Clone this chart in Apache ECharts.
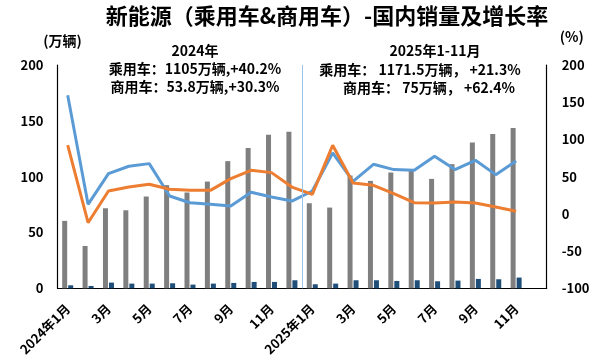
<!DOCTYPE html>
<html>
<head>
<meta charset="utf-8">
<script src="https://cdn.jsdelivr.net/npm/echarts@6/dist/echarts.min.js"></script>
<style>
html,body{margin:0;padding:0;background:#fff;}
#c{width:600px;height:363px;}
</style>
</head>
<body>
<div id="c"></div>
<script>
var categories = ['2024年1月','2月','3月','4月','5月','6月','7月','8月','9月','10月','11月','12月',
                  '2025年1月','2月','3月','4月','5月','6月','7月','8月','9月','10月','11月','12月'];
var passengerSales = [60.4,37.9,71.7,69.9,82.2,92.4,85.8,95.6,113.9,125.6,137.5,140.2,
                      76.2,72.3,101,96.2,103.7,105.8,98,111.2,130.6,138.1,143.5,null];
var commercialSales = [2.7,2.1,5.1,4.2,4.2,4.5,3.3,4.2,4.8,5.7,5.7,7.2,
                       3.6,4.2,7.2,7.2,6.6,7.2,6.3,6.9,8.4,8.1,9.6,null];
var commercialGrowth = [159.4,12.8,54,64,67.5,24,15,12.8,10.5,29,22.6,17.2,
                        30.7,81.8,43.7,66.6,59.5,58.5,77.4,59.5,72,52.7,71,null];
var passengerGrowth = [92.2,-11.9,30.7,36,39.7,33,31.6,31.6,47.4,58.5,55.4,36,
                       26.2,92.2,41.5,38.4,27.2,15,14.6,15.9,14.6,9.2,3.4,null];
var leftTicks = [0,200,50];
var rightTicks = [-100,200,50];
var titleText = '新能源（乘用车&商用车）-国内销量及增长率';
var note2024 = ['2024年','乘用车：1105万辆,+40.2%','商用车：53.8万辆,+30.3%'];
var note2025 = ['2025年1-11月','乘用车： 1171.5万辆， +21.3%','商用车： 75万辆， +62.4%'];
var dividerAt = 12;

var FONT = '"Noto Sans CJK SC", "Noto Sans", sans-serif';
var chart = echarts.init(document.getElementById('c'), null, {renderer:'canvas'});
function noteTitle(text, x, y, size){
  return {text: text, left: x, top: y, textAlign: 'center',
    textStyle: {fontFamily: FONT, fontWeight: 'bold', fontSize: size, color: '#000'}};
}
var option = {
  animation: false,
  backgroundColor: '#fff',
  title: [
    noteTitle(titleText, 322, 0, 22),
    noteTitle(note2024[0], 190, 39, 14),
    noteTitle(note2024[1], 190, 57, 14),
    noteTitle(note2024[2], 190, 75, 14),
    noteTitle(note2025[0], 430, 39, 14),
    noteTitle(note2025[1], 415, 58, 14),
    noteTitle(note2025[2], 424, 76, 14)
  ],
  grid: {left: 57.5, right: 53.3, top: 65, bottom: 74.7, containLabel: false},
  xAxis: [{
    type: 'category',
    data: categories,
    axisLine: {show: true, lineStyle: {color: '#000', width: 1.2}},
    axisTick: {show: false},
    axisLabel: {interval: 1, rotate: 45, fontFamily: FONT, fontWeight: 'bold', fontSize: 13, color: '#000', margin: 18},
    splitLine: {show: false}
  }, {
    type: 'value', min: 0, max: categories.length, show: false
  }],
  yAxis: [{
    type: 'value', min: leftTicks[0], max: leftTicks[1], interval: leftTicks[2],
    name: '(万辆)', nameLocation: 'end', nameGap: 17,
    nameTextStyle: {fontFamily: FONT, fontWeight: 'bold', fontSize: 14, color: '#000', align: 'center', padding: [0, 0, 0, 10]},
    axisLine: {show: true, lineStyle: {color: '#000', width: 1.2}},
    axisTick: {show: false},
    axisLabel: {fontFamily: FONT, fontWeight: 'bold', fontSize: 13, color: '#000', margin: 14},
    splitLine: {show: false}
  }, {
    type: 'value', min: rightTicks[0], max: rightTicks[1], interval: rightTicks[2],
    name: '(%)', nameLocation: 'end', nameGap: 21,
    nameTextStyle: {fontFamily: FONT, fontWeight: 'bold', fontSize: 14, color: '#000', align: 'center', padding: [0, 0, 0, 50]},
    axisLine: {show: true, lineStyle: {color: '#000', width: 1.2}},
    axisTick: {show: false},
    axisLabel: {fontFamily: FONT, fontWeight: 'bold', fontSize: 13, color: '#000', margin: 15},
    splitLine: {show: false}
  }],
  series: [{
    name: '乘用车', type: 'bar', data: passengerSales, yAxisIndex: 0,
    barWidth: 5, barGap: '20%',
    itemStyle: {color: '#7f7f7f'}
  }, {
    name: '商用车', type: 'bar', data: commercialSales, yAxisIndex: 0,
    barWidth: 5, barGap: '20%',
    itemStyle: {color: '#1f4e79'}
  }, {
    name: '商用车增长率', type: 'line', data: commercialGrowth, yAxisIndex: 1,
    symbol: 'none', lineStyle: {color: '#5b9bd5', width: 3}, itemStyle: {color: '#5b9bd5'}
  }, {
    name: '乘用车增长率', type: 'line', data: passengerGrowth, yAxisIndex: 1,
    symbol: 'none', lineStyle: {color: '#ed7d31', width: 3}, itemStyle: {color: '#ed7d31'}
  }, {
    name: 'divider', type: 'line', xAxisIndex: 1, yAxisIndex: 0, data: [],
    markLine: {silent: true, symbol: 'none', label: {show: false},
      lineStyle: {color: '#9dc3e6', width: 1, type: 'solid'},
      data: [{xAxis: dividerAt}]}
  }]
};
chart.setOption(option);
</script>
</body>
</html>
